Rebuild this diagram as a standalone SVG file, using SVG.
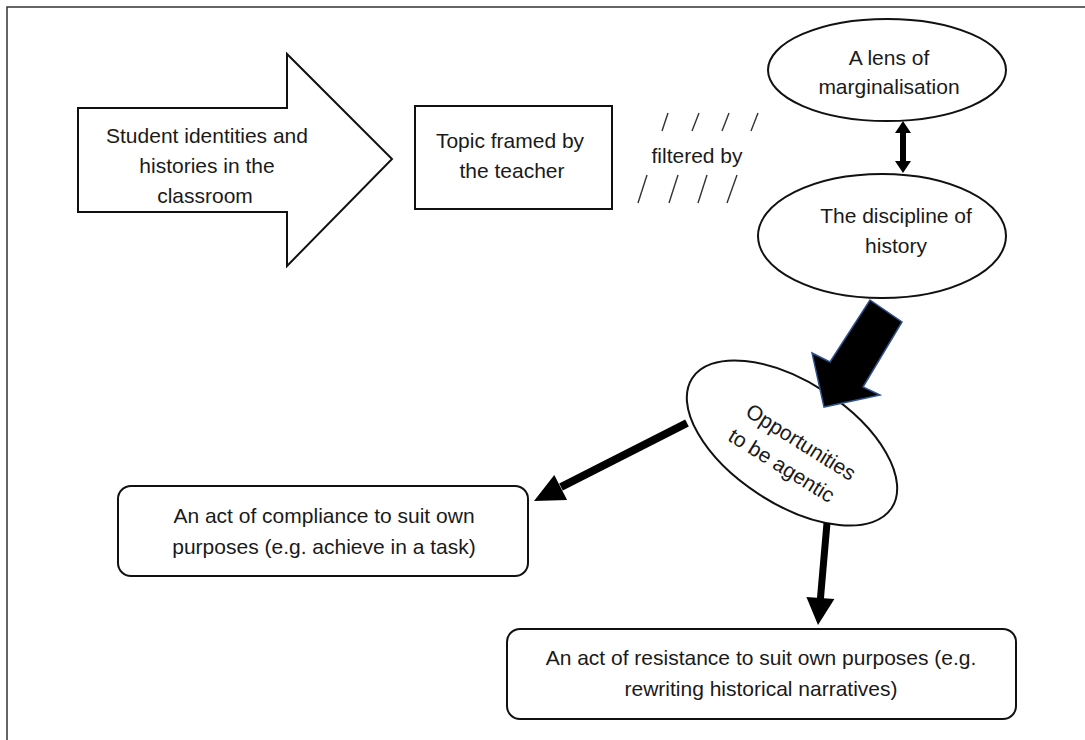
<svg xmlns="http://www.w3.org/2000/svg" width="1085" height="740" viewBox="0 0 1085 740">
<style>
.t{font-family:"Liberation Sans",Arial,sans-serif;font-size:21px;fill:#1a1a1a;text-anchor:middle}
.shape{fill:#fff;stroke:#111;stroke-width:2}
.sl{stroke:#333;stroke-width:1.4;fill:none}
.blk{fill:#000;stroke:none}
</style>
<rect x="0" y="0" width="1085" height="740" fill="#fff"/>
<rect x="7" y="7" width="1090" height="745" fill="none" stroke="#333" stroke-width="1.5"/>

<g id="student">
<polygon class="shape" points="78,108 287,108 287,54 392,159 287,266 287,212 78,212"/>
<text class="t" x="207" y="143">Student identities and</text>
<text class="t" x="207" y="173">histories in the</text>
<text class="t" x="205" y="203">classroom</text>
</g>

<g id="topic">
<rect class="shape" x="415" y="106" width="197" height="103"/>
<text class="t" x="510" y="148">Topic framed by</text>
<text class="t" x="512" y="178">the teacher</text>
</g>

<g id="filter">
<line class="sl" x1="662" y1="131" x2="668" y2="113"/>
<line class="sl" x1="692" y1="131" x2="699" y2="113"/>
<line class="sl" x1="722" y1="131" x2="729" y2="113"/>
<line class="sl" x1="751" y1="131" x2="758" y2="113"/>
<text class="t" x="697" y="163">filtered by</text>
<line class="sl" x1="638" y1="203" x2="647" y2="175"/>
<line class="sl" x1="669" y1="203" x2="678" y2="175"/>
<line class="sl" x1="698" y1="203" x2="707" y2="175"/>
<line class="sl" x1="727" y1="203" x2="737" y2="175"/>
</g>

<g id="lens">
<ellipse class="shape" cx="887" cy="70" rx="119" ry="51"/>
<text class="t" x="889" y="65">A lens of</text>
<text class="t" x="889" y="94">marginalisation</text>
</g>

<g id="discipline">
<ellipse class="shape" cx="882" cy="236" rx="124" ry="62"/>
<text class="t" x="896" y="223">The discipline of</text>
<text class="t" x="896" y="253">history</text>
</g>

<g id="opportunities">
<ellipse class="shape" cx="792" cy="443" rx="119" ry="61" transform="rotate(33 792 443)"/>
<g transform="rotate(32 790 452)">
<text class="t" x="794" y="445">Opportunities</text>
<text class="t" x="790" y="475">to be agentic</text>
</g>
</g>

<g id="compliance">
<rect class="shape" x="118" y="486" width="410" height="90" rx="13"/>
<text class="t" x="324" y="523">An act of compliance to suit own</text>
<text class="t" x="324" y="554">purposes (e.g. achieve in a task)</text>
</g>

<g id="resistance">
<rect class="shape" x="507" y="629" width="509" height="90" rx="13"/>
<text class="t" x="761" y="665">An act of resistance to suit own purposes (e.g.</text>
<text class="t" x="761" y="696">rewriting historical narratives)</text>
</g>

<g id="connectors">
<polygon class="blk" points="903,121 911,133 906,133 906,161 911,161 903,173 895,161 900,161 900,133 895,133"/>
<polygon points="870,300 902,322 863,387 880,395 824,407 812,353 830,362" fill="#000" stroke="#2f528f" stroke-width="1.5" stroke-linejoin="miter"/>
<line x1="687" y1="423" x2="561" y2="487" stroke="#000" stroke-width="8"/>
<polygon class="blk" points="534,501 554.3,474.9 567.1,499.9"/>
<line x1="827" y1="523" x2="820.4" y2="599" stroke="#000" stroke-width="7"/>
<polygon class="blk" points="818,625 806.4,597 834.4,599"/>
</g>
</svg>
